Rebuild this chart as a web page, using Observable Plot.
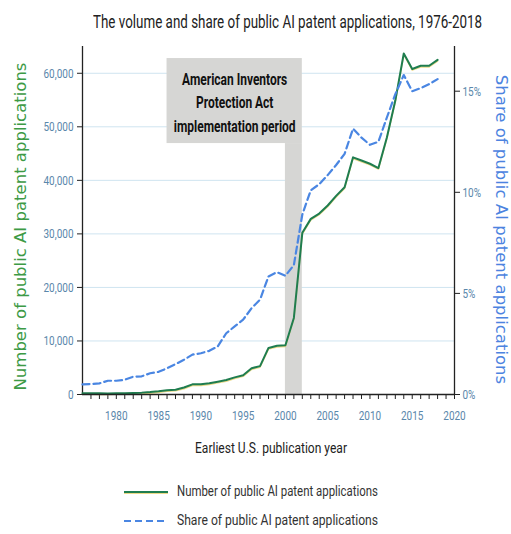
<!DOCTYPE html>
<html>
<head>
<meta charset="utf-8">
<script src="https://cdn.jsdelivr.net/npm/d3@7"></script>
<script src="https://cdn.jsdelivr.net/npm/@observablehq/plot@0.6"></script>
<style>
  html, body { margin: 0; padding: 0; background: #fff; }
  #wrap { position: relative; width: 511px; height: 534px; overflow: hidden; font-family: Roboto, sans-serif; }
  #chart { position: absolute; left: 0; top: 0; }
  .fit { position: absolute; white-space: nowrap; line-height: 1; }
  .fit span.t { display: inline-block; transform-origin: 0 50%; }
  #title { left: 93px; top: 14px; font-size: 17.5px; color: #222; }
  #xlabel { left: 195px; top: 441px; font-size: 15.5px; color: #222; }
  .leg { position: absolute; left: 123px; height: 18px; display: flex; align-items: center; white-space: nowrap; }
  .leg svg { flex: none; }
  .leg .lt { position: absolute; left: 54px; top: 1px; font-size: 15.5px; color: #333; }
</style>
</head>
<body>
<div id="wrap">
  <div id="chart"></div>
  <div class="fit" id="title"></div>
  <div class="fit" id="xlabel"></div>
  <div class="leg" id="leg1" style="top:483px"></div>
  <div class="leg" id="leg2" style="top:512px"></div>
</div>
<script>
// ---- data ----
const years = d3.range(1976, 2019);
const counts = [250, 250, 220, 200, 250, 250, 300, 350, 450, 600,
                800, 900, 1300, 1900, 1900, 2100, 2400, 2700, 3200, 3600,
                4900, 5300, 8700, 9100, 9200, 14300, 30200, 32800, 33800, 35300,
                37100, 38700, 44300, 43700, 43100, 42300, 48000, 54900, 63700, 60800,
                61400, 61400, 62500];
const shares = [0.50, 0.52, 0.55, 0.68, 0.68, 0.73, 0.88, 0.90, 1.05, 1.12,
                1.30, 1.50, 1.72, 1.97, 2.04, 2.16, 2.38, 3.03, 3.37, 3.70,
                4.27, 4.69, 5.84, 6.05, 5.87, 6.40, 8.90, 10.10, 10.40, 10.85,
                11.35, 11.90, 13.15, 12.70, 12.35, 12.50, 13.70, 14.85, 15.80, 15.00,
                15.15, 15.35, 15.60];
const countTicks = [0, 10000, 20000, 30000, 40000, 50000, 60000];
const shareTicks = [0, 5, 10, 15];
const yearLabels = [1980, 1985, 1990, 1995, 2000, 2005, 2010, 2015, 2020];
const xDomain = [1976, 2020];
const yDomain = [0, 65000];
const actPeriod = [2000, 2002];
const noteBox = {x1: 1986, x2: 2002, y1: 46870, y2: 62750, textY: 54900};
const noteText = "American Inventors\nProtection Act\nimplementation period";
const titleText = "The volume and share of public AI patent applications, 1976-2018";
const xLabel = "Earliest U.S. publication year";
const leftLabel = "Number of public AI patent applications";
const rightLabel = "Share of public AI patent applications";
const seriesNames = ["Number of public AI patent applications", "Share of public AI patent applications"];

// share (%) -> count-scale units so both series share one y scale
const K = 3776.7;

const green = "#1f7d4f", shadow = "#e6cf6a", blue = "#4a86e2";
const tickColor = "#5a87ab";
const data = years.map((y, i) => ({year: y, count: counts[i], share: shares[i] * K}));

const chart = Plot.plot({
  width: 511,
  height: 470,
  marginTop: 46,
  marginBottom: 76,
  marginLeft: 82,
  marginRight: 57,
  style: {fontFamily: "Roboto, sans-serif", fontSize: "13.5px", background: "transparent"},
  x: {domain: xDomain},
  y: {domain: yDomain},
  marks: [
    Plot.gridY(countTicks.slice(1), {stroke: "#cfe4f0", strokeOpacity: 1, strokeWidth: 1}),
    Plot.rect([noteBox], {x1: "x1", x2: "x2", y1: "y1", y2: "y2", fill: "#d6d6d4"}),
    Plot.rect([{x1: actPeriod[0], x2: actPeriod[1]}], {x1: "x1", x2: "x2", y1: 0, y2: noteBox.y1, fill: "#d6d6d4"}),
    Plot.text([noteText], {x: (noteBox.x1 + noteBox.x2) / 2, y: noteBox.textY, text: d => d, fontSize: 16.5, fontWeight: "bold", fill: "#111", lineHeight: 1.42, textAnchor: "middle", className: "note"}),
    // axes lines
    Plot.ruleX([xDomain[0]], {stroke: "#222", strokeWidth: 1.3}),
    Plot.ruleX([xDomain[1]], {stroke: "#222", strokeWidth: 1.3}),
    // x axis ticks + labels
    Plot.axisX({ticks: d3.range(1977, 2021), tickSize: 5, tickFormat: () => "", stroke: "#222"}),
    Plot.axisX({ticks: yearLabels, tickSize: 0, tickPadding: 16, tickFormat: d => String(d), color: tickColor, className: "tl"}),
    // left y axis
    Plot.axisY({ticks: countTicks, tickSize: 5, tickFormat: () => "", stroke: "#222"}),
    Plot.axisY({ticks: countTicks, tickSize: 0, tickPadding: 9, tickFormat: d3.format(","), color: tickColor, className: "tl"}),
    // right y axis (share)
    Plot.axisY({anchor: "right", ticks: shareTicks.map(s => s * K), tickSize: 5, tickFormat: () => "", stroke: "#222"}),
    Plot.axisY({anchor: "right", ticks: shareTicks.map(s => s * K), tickSize: 0, tickPadding: 8, tickFormat: d => Math.round(d / K) + "%", color: tickColor, className: "tl"}),
    // axis titles
    Plot.text([leftLabel], {frameAnchor: "left", text: d => d, rotate: -90, dx: -62, dy: 6, fill: "#3d9a45", fontSize: 16.5, fontFamily: "DejaVu Sans", textAnchor: "middle"}),
    Plot.text([rightLabel], {frameAnchor: "right", text: d => d, rotate: 90, dx: 47, dy: 9, fill: "#4c83e0", fontSize: 16.5, fontFamily: "DejaVu Sans", textAnchor: "middle"}),
    // series
    Plot.line(data, {x: "year", y: "count", stroke: shadow, strokeWidth: 1.4, dy: 1.2, strokeOpacity: 0.8}),
    Plot.line(data, {x: "year", y: "count", stroke: green, strokeWidth: 2}),
    Plot.line(data, {x: "year", y: "share", stroke: blue, strokeWidth: 2.2, strokeDasharray: "7,4"}),
    Plot.ruleY([0], {stroke: "#222", strokeWidth: 1.3})
  ]
});
document.getElementById("chart").appendChild(chart);

// condense SVG text horizontally (the reference uses a condensed face)
function squeeze(el, sx) {
  const tr = el.getAttribute("transform");
  if (tr) el.setAttribute("transform", tr + ` scale(${sx},1)`);
  else {
    const x = +el.getAttribute("x") || 0, y = +el.getAttribute("y") || 0;
    el.removeAttribute("x"); el.removeAttribute("y");
    el.setAttribute("transform", `translate(${x},${y}) scale(${sx},1)`);
  }
}
chart.querySelectorAll("g.tl text").forEach(t => squeeze(t, 0.74));
chart.querySelectorAll("g.note text").forEach(t => {
  const w = t.getBBox().width;
  squeeze(t, 122 / w);
});

// HTML texts fitted to the reference widths
function fit(id, text, width) {
  const host = document.getElementById(id);
  const s = document.createElement("span");
  s.className = "t"; s.textContent = text;
  host.appendChild(s);
  const w = s.getBoundingClientRect().width;
  s.style.transform = `scaleX(${width / w})`;
}
fit("title", titleText, 389);
fit("xlabel", xLabel, 152);

function legendRow(id, name, dash, color, withShadow) {
  const el = document.getElementById(id);
  const ns = "http://www.w3.org/2000/svg";
  const s = document.createElementNS(ns, "svg");
  s.setAttribute("width", 46); s.setAttribute("height", 18);
  if (withShadow) {
    const l0 = document.createElementNS(ns, "line");
    l0.setAttribute("x1", 1); l0.setAttribute("x2", 45); l0.setAttribute("y1", 10.2); l0.setAttribute("y2", 10.2);
    l0.setAttribute("stroke", shadow); l0.setAttribute("stroke-width", 1.4); l0.setAttribute("stroke-opacity", 0.8);
    s.appendChild(l0);
  }
  const l = document.createElementNS(ns, "line");
  l.setAttribute("x1", 1); l.setAttribute("x2", 45); l.setAttribute("y1", 9); l.setAttribute("y2", 9);
  l.setAttribute("stroke", color); l.setAttribute("stroke-width", 2.2);
  if (dash) l.setAttribute("stroke-dasharray", dash);
  s.appendChild(l);
  el.appendChild(s);
  const t = document.createElement("div");
  t.className = "lt fit"; t.id = id + "t";
  el.appendChild(t);
  fit(id + "t", name, 201);
}
legendRow("leg1", seriesNames[0], null, green, true);
legendRow("leg2", seriesNames[1], "7,4", blue, false);
</script>
</body>
</html>
